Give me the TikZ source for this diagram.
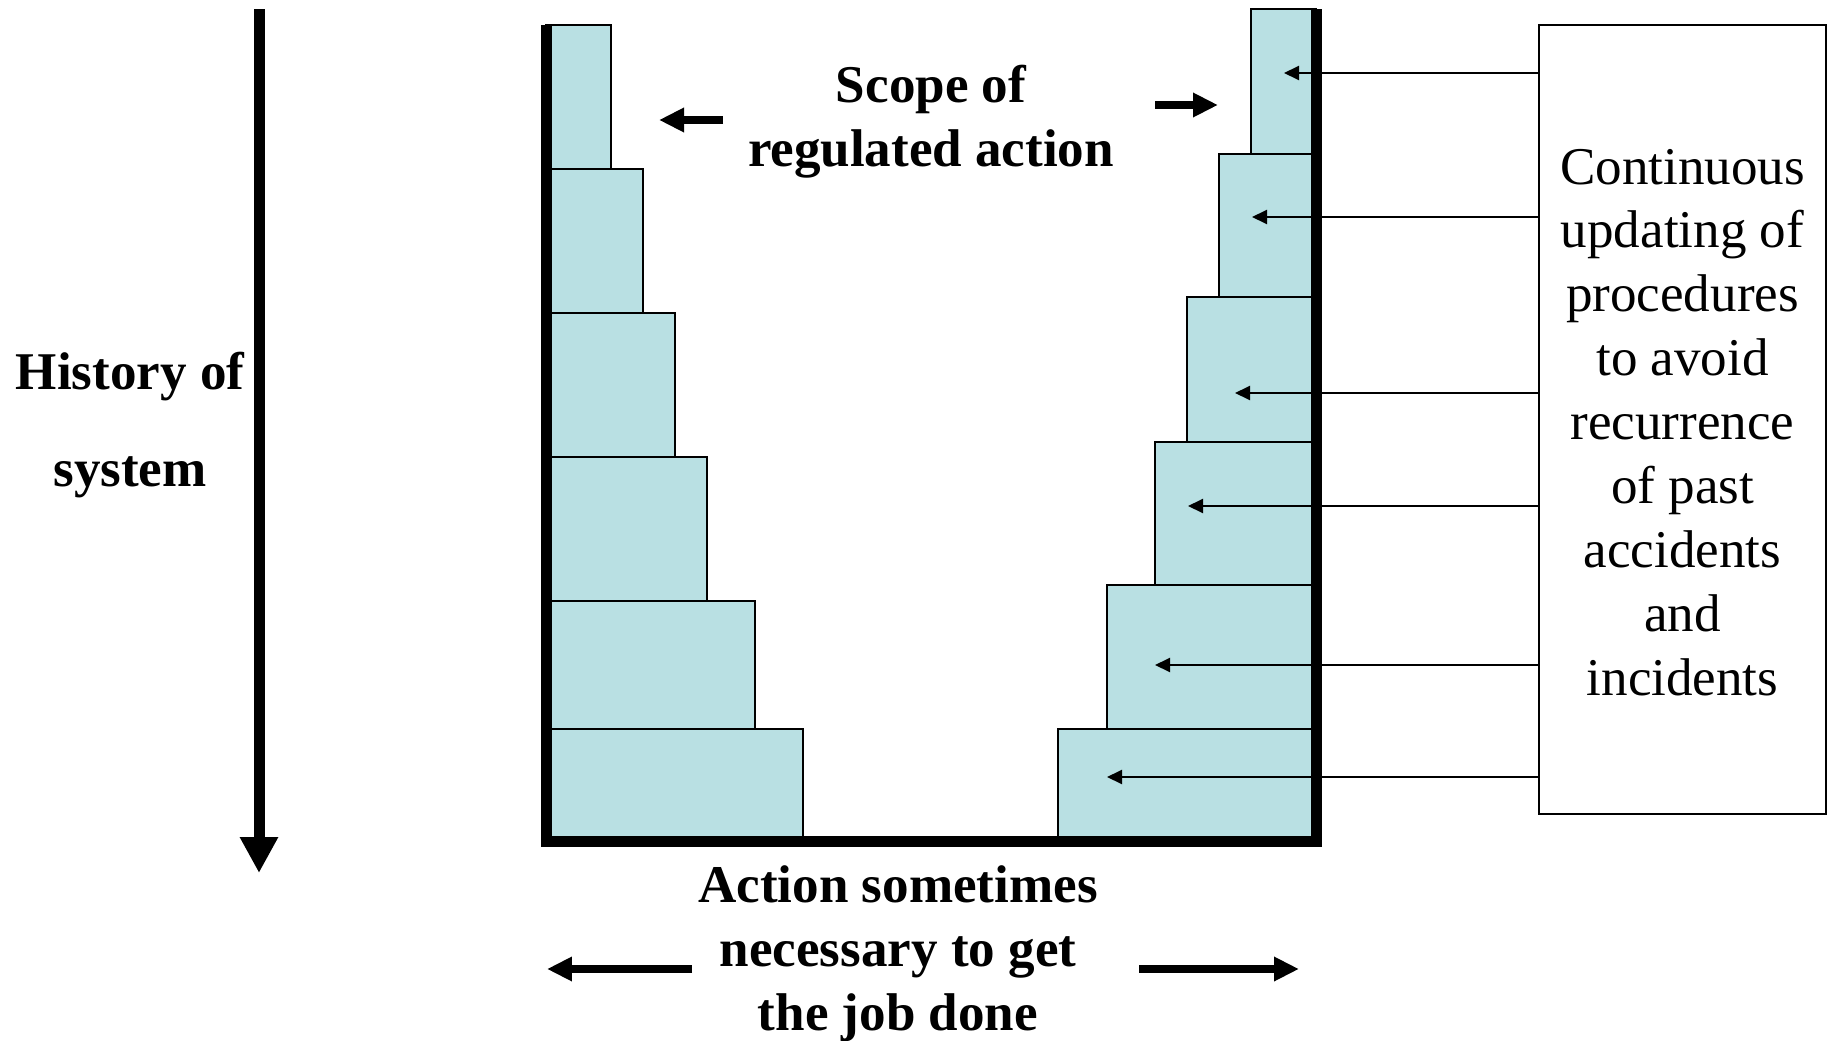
\documentclass[tikz,border=0pt]{standalone}
\usepackage{fontspec}
\setmainfont{Liberation Serif}
\usepackage{tikz}
\usetikzlibrary{arrows.meta,positioning}
\definecolor{steptint}{RGB}{185,224,227}

\begin{document}
\begin{tikzpicture}[
  x=0.02cm, y=-0.02cm,
  every node/.style={inner sep=0pt, align=center},
  stepbox/.style={draw, fill=steptint, line width=0.03cm},
  wall/.style={line width=0.22cm},
  histarrow/.style={line width=0.22cm, -{Triangle[length=0.72cm,width=0.72cm]}},
  bigarrow/.style={line width=0.16cm, -{Triangle[length=0.5cm,width=0.46cm]}},
  feed/.style={line width=0.04cm, -{Triangle[length=0.3cm,width=0.28cm]}},
  headtext/.style={font=\bfseries\fontsize{30.2}{36.4}\selectfont},
  boxtext/.style={font=\fontsize{30.2}{36.4}\selectfont}
]
\useasboundingbox (0,0) rectangle (1827,1041);

% steps on the left
\foreach \xr/\ya/\yb in {611/25/169, 643/169/313, 675/313/457, 707/457/601, 755/601/729, 803/729/841}
  \draw[stepbox] (546,\ya) rectangle (\xr,\yb);
% steps on the right
\foreach \xl/\ya/\yb in {1251/9/154, 1219/154/297, 1187/297/442, 1155/442/585, 1107/585/729, 1058/729/841}
  \draw[stepbox] (\xl,\ya) rectangle (1316,\yb);

% walls
\coordinate (wl) at (546,25);
\coordinate (wr) at (1316,9);
\draw[wall] (wl) -- (wl |- 0,841) -- (wr |- 0,841) -- (wr);

% history of system
\coordinate (h0) at (259,9);
\coordinate (h1) at (259,873);
\draw[histarrow] (h0) -- (h1);
\node[headtext] (hist) at (130,425) {History of\\[0.66cm]system};

% scope of regulated action
\node[headtext] (scope) at (931,122) {Scope of\\regulated action};
\coordinate (sl0) at (723,120);
\coordinate (sl1) at (659,120);
\coordinate (sr0) at (1155,105);
\coordinate (sr1) at (1218,105);
\draw[bigarrow] (sl0) -- (sl1);
\draw[bigarrow] (sr0) -- (sr1);

% action sometimes necessary
\node[headtext] (act) at (898,954) {Action sometimes\\necessary to get\\the job done};
\coordinate (al0) at (692,969);
\coordinate (al1) at (547,969);
\coordinate (ar0) at (1139,969);
\coordinate (ar1) at (1299,969);
\draw[bigarrow] (al0) -- (al1);
\draw[bigarrow] (ar0) -- (ar1);

% updating box
\node[draw, line width=0.04cm, minimum width=5.74cm, minimum height=15.78cm] (upd) at (1682.5,419.5) {};
\node[boxtext] (updtext) at ([yshift=-3*0.02cm]upd.center)
  {Continuous\\updating of\\procedures\\to avoid\\recurrence\\of past\\accidents\\and\\incidents};

\foreach \i/\tx/\ty in {1/1284/73, 2/1252/217, 3/1235/393, 4/1188/506, 5/1155/665, 6/1107/777} {
  \coordinate (tip\i) at (\tx,\ty);
  \draw[feed] (upd.west |- tip\i) -- (tip\i);
}

\end{tikzpicture}
\end{document}
